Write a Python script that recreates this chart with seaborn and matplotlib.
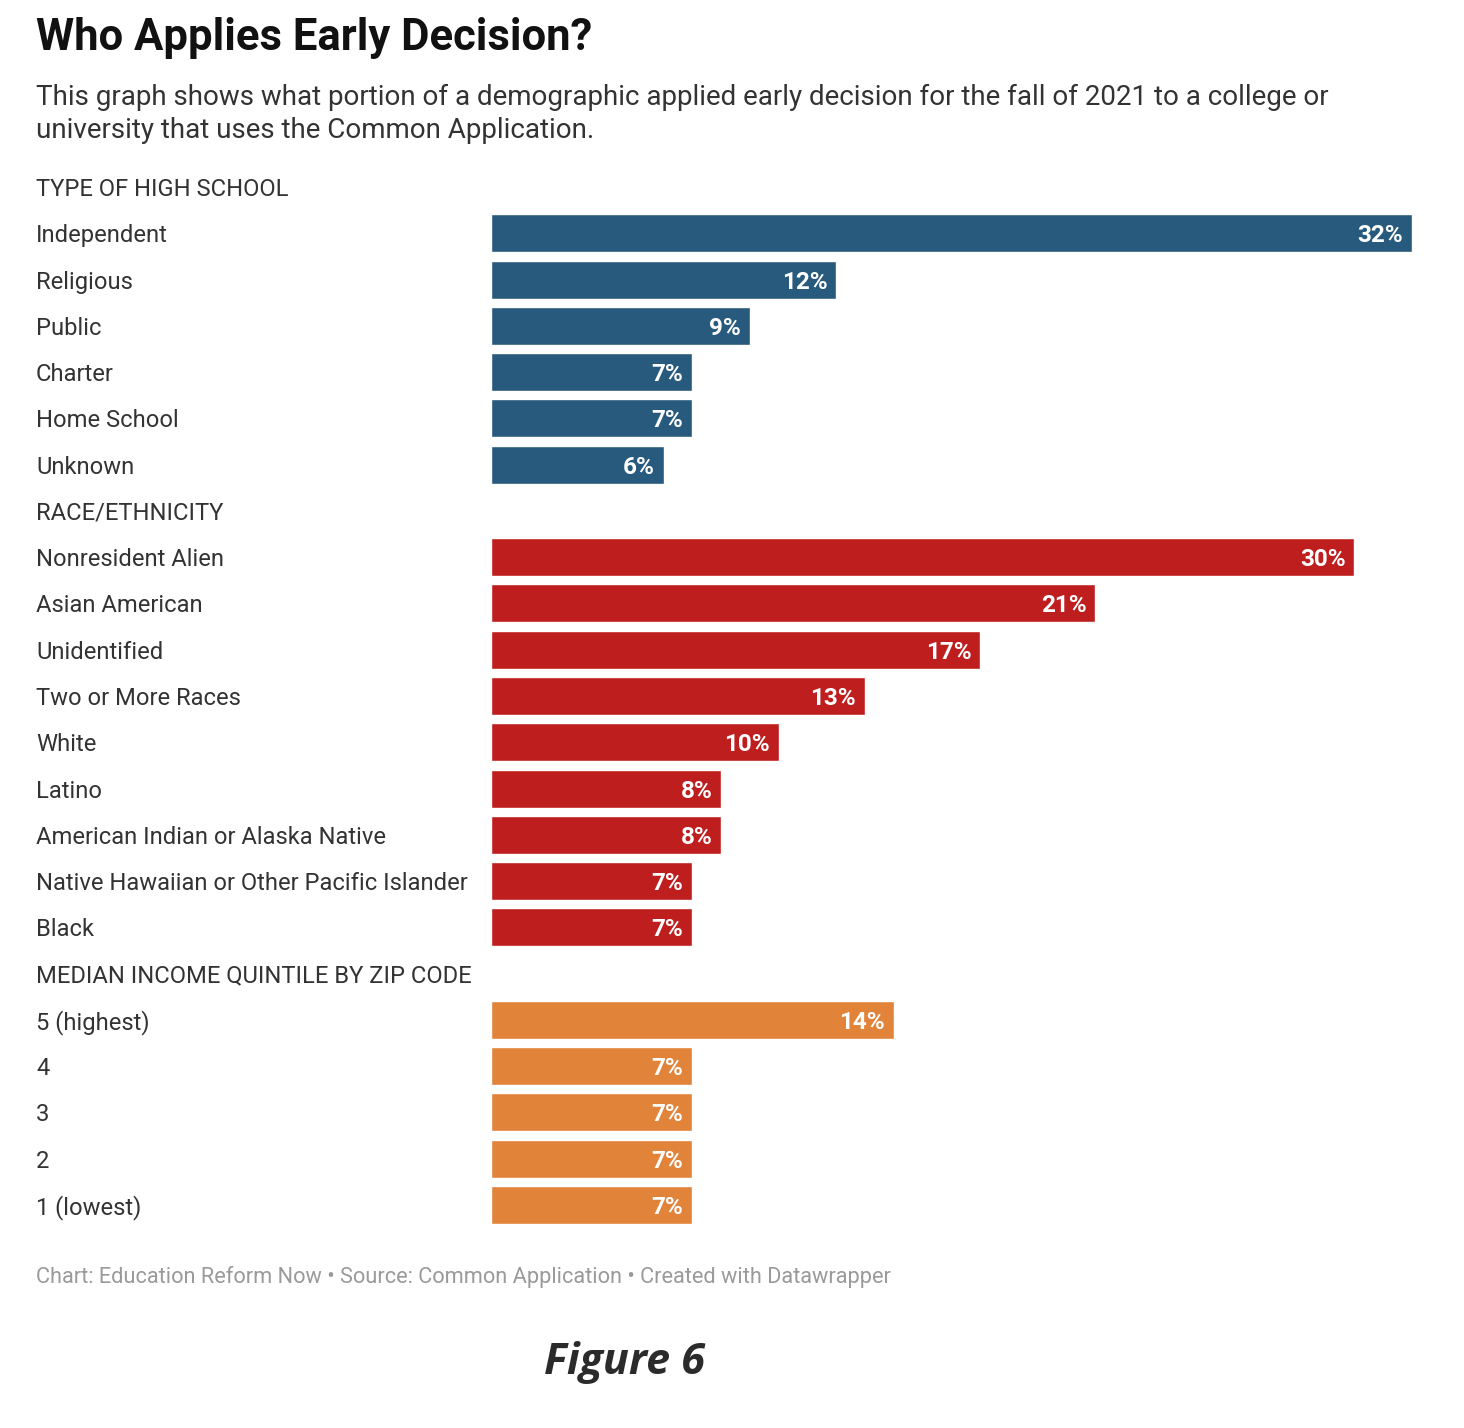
import pandas as pd
import seaborn as sns
import matplotlib.pyplot as plt
from matplotlib import transforms

# data
hs_labels = ["Independent", "Religious", "Public", "Charter", "Home School", "Unknown"]
hs_values = [32, 12, 9, 7, 7, 6]
race_labels = ["Nonresident Alien", "Asian American", "Unidentified", "Two or More Races",
               "White", "Latino", "American Indian or Alaska Native",
               "Native Hawaiian or Other Pacific Islander", "Black"]
race_values = [30, 21, 17, 13, 10, 8, 8, 7, 7]
inc_labels = ["5 (highest)", "4", "3", "2", "1 (lowest)"]
inc_values = [14, 7, 7, 7, 7]
headers = ["TYPE OF HIGH SCHOOL", "RACE/ETHNICITY", "MEDIAN INCOME QUINTILE BY ZIP CODE"]
colors = {"hs": "#285a7e", "race": "#bf1e1f", "inc": "#e2833a"}

df = pd.concat([
    pd.DataFrame({"label": hs_labels, "value": hs_values, "group": "hs"}),
    pd.DataFrame({"label": race_labels, "value": race_values, "group": "race"}),
    pd.DataFrame({"label": inc_labels, "value": inc_values, "group": "inc"}),
], ignore_index=True)

order = [headers[0]] + hs_labels + [headers[1]] + race_labels + [headers[2]] + inc_labels

sns.set_theme(style="white")
plt.rcParams['font.family'] = ['Roboto', 'DejaVu Sans']

W, H = 1464, 1428
fig = plt.figure(figsize=(W / 100, H / 100), dpi=100)
fig.patch.set_facecolor("white")

row_h = (1205 - 187) / 22
left, right = 491, 1412
top_px, bot_px = 187 - row_h / 2, 1205 + row_h / 2
ax = fig.add_axes([left / W, 1 - bot_px / H, (right - left) / W, (bot_px - top_px) / H])

sns.barplot(data=df, y="label", x="value", hue="group", palette=colors, order=order,
            dodge=False, width=0.82, saturation=1, legend=False, ax=ax)
ax.set_xlim(0, 32)
ax.set_ylim(len(order) - 0.5, -0.5)
ax.set_xlabel("")
ax.set_ylabel("")
ax.set_xticks([])
ax.set_yticks([])
sns.despine(ax=ax, left=True, bottom=True)

# row labels on the left
trans = transforms.blended_transform_factory(fig.transFigure, ax.transData)
for i, lab in enumerate(order):
    ax.text(36 / W, i, lab, transform=trans, ha="left", va="center_baseline",
            fontsize=17.1, color="#333333")

# value labels inside bar ends
for lab, v in zip(df["label"], df["value"]):
    ax.annotate(f"{v}%", xy=(v, order.index(lab)), xytext=(-6.5, 0),
                textcoords="offset points", ha="right", va="center_baseline",
                fontsize=17.5, fontweight="bold", color="white")

fig.text(36 / W, 1 - 38 / H, "Who Applies Early Decision?", ha="left", va="center",
         fontsize=31.4, fontweight="bold", color="#111111")
fig.text(36 / W, 1 - 97 / H,
         "This graph shows what portion of a demographic applied early decision for the fall of 2021 to a college or",
         ha="left", va="center", fontsize=20, color="#333333")
fig.text(36 / W, 1 - 130 / H, "university that uses the Common Application.",
         ha="left", va="center", fontsize=20, color="#333333")
fig.text(36 / W, 1 - 1277 / H,
         "Chart: Education Reform Now \u2022 Source: Common Application \u2022 Created with Datawrapper",
         ha="left", va="center", fontsize=15.7, color="#9a9a9a")
fig.text(624 / W, 1 - 1362 / H, "Figure 6", family=["Open Sans", "DejaVu Sans"],
         ha="center", va="center", fontsize=31, fontweight="bold", fontstyle="italic",
         color="#2b2b2b")

fig.savefig("out.png", dpi=100, facecolor="white")
